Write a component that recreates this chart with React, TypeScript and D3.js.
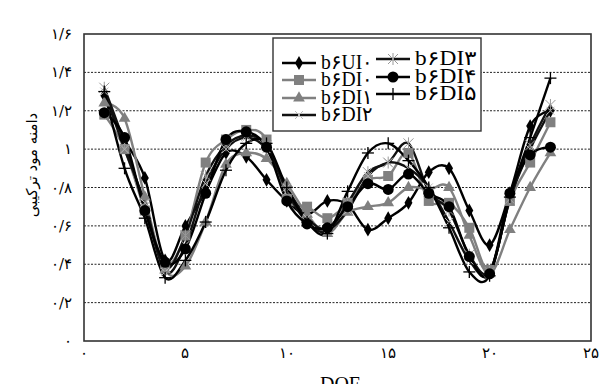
import React from "react";
import * as d3 from "d3";

const dof = [1, 2, 3, 4, 5, 6, 7, 8, 9, 10, 11, 12, 13, 14, 15, 16, 17, 18, 19, 20, 21, 22, 23];

const b6UI0 = [1.28, 1.05, 0.85, 0.42, 0.6, 0.78, 0.98, 0.96, 0.84, 0.73, 0.66, 0.73, 0.71, 0.58, 0.64, 0.72, 0.88, 0.9, 0.68, 0.5, 0.77, 1.12, 1.2];
const b6DI0 = [1.18, 1.0, 0.68, 0.4, 0.55, 0.93, 1.05, 1.1, 1.05, 0.74, 0.7, 0.64, 0.72, 0.84, 0.86, 0.98, 0.73, 0.72, 0.59, 0.37, 0.73, 0.93, 1.14];
const b6DI1 = [1.24, 1.16, 0.75, 0.37, 0.39, 0.62, 0.92, 0.98, 0.95, 0.82, 0.66, 0.56, 0.67, 0.7, 0.72, 0.8, 0.79, 0.8, 0.55, 0.35, 0.58, 0.8, 0.98];
const b6DI2 = [1.3, 1.0, 0.72, 0.36, 0.5, 0.82, 1.0, 1.06, 1.0, 0.8, 0.64, 0.58, 0.68, 0.86, 0.93, 0.9, 0.8, 0.62, 0.42, 0.35, 0.74, 1.0, 1.2];
const b6DI3 = [1.32, 1.03, 0.7, 0.38, 0.55, 0.86, 1.02, 1.07, 1.02, 0.78, 0.62, 0.57, 0.72, 0.88, 0.93, 1.03, 0.78, 0.68, 0.45, 0.36, 0.74, 1.02, 1.23];
const b6DI4 = [1.19, 1.06, 0.68, 0.41, 0.48, 0.77, 1.05, 1.09, 1.01, 0.73, 0.61, 0.59, 0.7, 0.82, 0.79, 0.87, 0.77, 0.7, 0.44, 0.35, 0.77, 0.97, 1.01];
const b6DI5 = [1.3, 0.9, 0.64, 0.33, 0.42, 0.62, 0.89, 1.03, 1.03, 0.8, 0.62, 0.56, 0.78, 0.98, 1.03, 0.94, 0.8, 0.59, 0.36, 0.34, 0.75, 1.06, 1.37];

const seriesNames = ["b۶UI۰", "b۶DI۰", "b۶DI۱", "b۶DI۲", "b۶DI۳", "b۶DI۴", "b۶DI۵"];
const yTicks = [0, 0.2, 0.4, 0.6, 0.8, 1, 1.2, 1.4, 1.6];
const yTickLabels = ["۰", "۰/۲", "۰/۴", "۰/۶", "۰/۸", "۱", "۱/۲", "۱/۴", "۱/۶"];
const xTicks = [0, 5, 10, 15, 20, 25];
const xTickLabels = ["۰", "۵", "۱۰", "۱۵", "۲۰", "۲۵"];
const yTitle = "دامنه مود ترکیبی";
const xTitle = "DOF";

type Marker = "diamond" | "square" | "triangle" | "x" | "asterisk" | "circle" | "plus";

const styles: { color: string; marker: Marker; mcolor: string }[] = [
  { color: "#000", marker: "diamond", mcolor: "#000" },
  { color: "#808080", marker: "square", mcolor: "#808080" },
  { color: "#808080", marker: "triangle", mcolor: "#808080" },
  { color: "#111", marker: "x", mcolor: "#bbb" },
  { color: "#111", marker: "asterisk", mcolor: "#999" },
  { color: "#000", marker: "circle", mcolor: "#000" },
  { color: "#000", marker: "plus", mcolor: "#000" },
];

const W = 604, H = 384;
const L = 84, R = 591, T = 34, B = 341;

function MarkerShape({ type, x, y, color }: { type: Marker; x: number; y: number; color: string }) {
  switch (type) {
    case "diamond":
      return <path d={d3.symbol(d3.symbolDiamond, 55)()!} transform={`translate(${x},${y})`} fill={color} />;
    case "square":
      return <rect x={x - 5} y={y - 5} width={10} height={10} fill={color} />;
    case "triangle":
      return <path d={d3.symbol(d3.symbolTriangle, 60)()!} transform={`translate(${x},${y})`} fill={color} />;
    case "circle":
      return <circle cx={x} cy={y} r={5.5} fill={color} />;
    case "plus":
      return (
        <g stroke={color} strokeWidth={1.3}>
          <line x1={x - 6} x2={x + 6} y1={y} y2={y} />
          <line x1={x} x2={x} y1={y - 6} y2={y + 6} />
        </g>
      );
    case "x":
      return (
        <g stroke={color} strokeWidth={1}>
          <line x1={x - 4} x2={x + 4} y1={y - 4} y2={y + 4} />
          <line x1={x - 4} x2={x + 4} y1={y + 4} y2={y - 4} />
        </g>
      );
    case "asterisk":
      return (
        <g stroke={color} strokeWidth={1}>
          <line x1={x - 5} x2={x + 5} y1={y - 5} y2={y + 5} />
          <line x1={x - 5} x2={x + 5} y1={y + 5} y2={y - 5} />
          <line x1={x} x2={x} y1={y - 6} y2={y + 6} />
        </g>
      );
  }
  return null;
}

export default function App() {
  const x = d3.scaleLinear().domain([0, 25]).range([L, R]);
  const y = d3.scaleLinear().domain([0, 1.6]).range([B, T]);
  const allSeries = [b6UI0, b6DI0, b6DI1, b6DI2, b6DI3, b6DI4, b6DI5];
  const line = d3
    .line<number>()
    .x((_, i) => x(dof[i]))
    .y((v) => y(v))
    .curve(d3.curveCardinal.tension(0));

  const legendCol1 = [0, 1, 2, 3];
  const legendCol2 = [4, 5, 6];
  const col1Y = [63, 80, 98, 115];
  const col2Y = [59, 77, 94];

  const legendItem = (idx: number, lx: number, ly: number, tw: number) => {
    const s = styles[idx];
    return (
      <g key={"lg" + idx}>
        <line x1={lx} x2={lx + 34} y1={ly} y2={ly} stroke={s.color} strokeWidth={2.5} />
        <MarkerShape type={s.marker} x={lx + 17} y={ly} color={s.mcolor} />
        <text x={lx + 39} y={ly + 6} fontSize={20} textLength={tw} lengthAdjust="spacingAndGlyphs"
          fontFamily="'Liberation Serif', 'DejaVu Serif', serif" fill="#000">
          {seriesNames[idx]}
        </text>
      </g>
    );
  };

  return (
    <svg width={W} height={H} style={{ position: "absolute", left: 0, top: 0 }}>
      <rect x={0} y={0} width={W} height={H} fill="#fff" />
      {yTicks.slice(1, -1).map((t) => (
        <line key={"g" + t} x1={L} x2={R} y1={y(t)} y2={y(t)} stroke="#222" strokeWidth={1} strokeDasharray="2,1.5" />
      ))}
      {allSeries.map((vals, si) => (
        <path key={"l" + si} d={line(vals)!} fill="none" stroke={styles[si].color} strokeWidth={2.4} />
      ))}
      {allSeries.map((vals, si) => (
        <g key={"m" + si}>
          {vals.map((v, i) => (
            <MarkerShape key={i} type={styles[si].marker} x={x(dof[i])} y={y(v)} color={styles[si].mcolor} />
          ))}
        </g>
      ))}
      <rect x={L} y={T} width={R - L} height={B - T} fill="none" stroke="#333" strokeWidth={1.6} />
      {yTicks.map((t, i) => (
        <text key={"yt" + t} x={72} y={y(t) + 5} textAnchor="end" fontSize={15} fontFamily="'DejaVu Serif', serif" fill="#000">
          {yTickLabels[i]}
        </text>
      ))}
      {xTicks.map((t, i) => (
        <text key={"xt" + t} x={x(t)} y={358} textAnchor="middle" fontSize={15} fontFamily="'DejaVu Serif', serif" fill="#000">
          {xTickLabels[i]}
        </text>
      ))}
      <text transform="translate(37,165) rotate(-90)" textAnchor="middle" fontSize={15} fontFamily="'DejaVu Sans', serif" fill="#000">
        {yTitle}
      </text>
      <text x={340} y={391} textAnchor="middle" fontSize={20} fontFamily="'Liberation Serif', serif" fill="#000">
        {xTitle}
      </text>
      <rect x={273} y={38} width={208} height={93} fill="#fff" stroke="#333" strokeWidth={1.4} />
      {legendCol1.map((idx, k) => legendItem(idx, 282, col1Y[k], 52))}
      {legendCol2.map((idx, k) => legendItem(idx, 376, col2Y[k], 62))}
    </svg>
  );
}
